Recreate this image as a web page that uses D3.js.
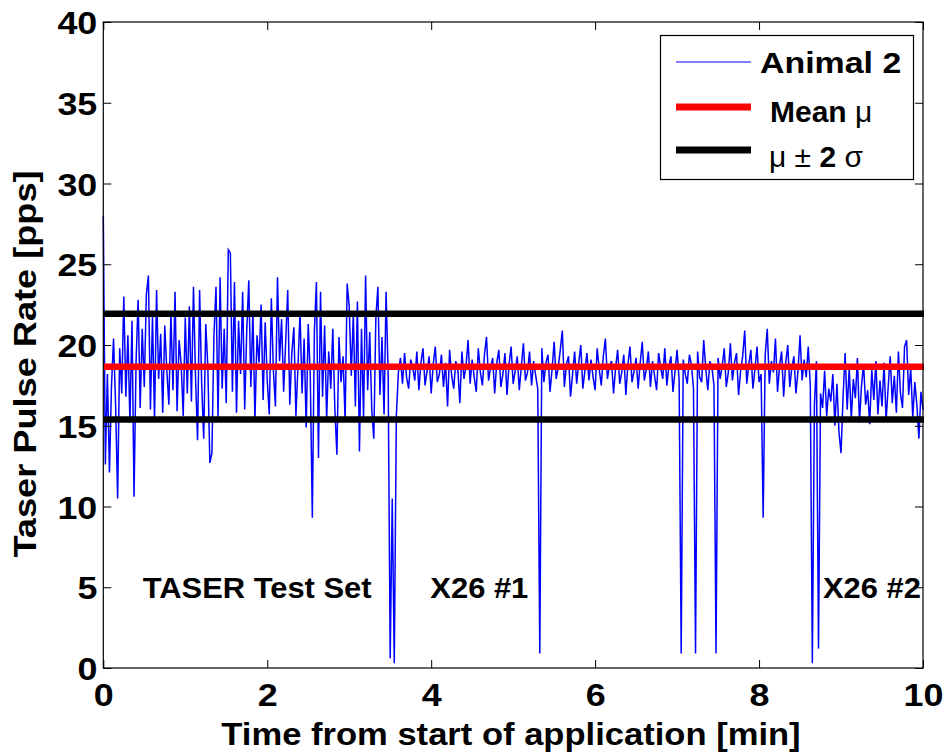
<!DOCTYPE html>
<html>
<head>
<meta charset="utf-8">
<script src="https://cdn.jsdelivr.net/npm/d3@7/dist/d3.min.js"></script>
<style>
body { margin: 0; background: #fff; }
svg text { font-family: "Liberation Sans", Arial, sans-serif; font-weight: bold; fill: #000; }
</style>
</head>
<body>
<svg id="chart" width="946" height="755"></svg>
<script>
// pulse rate, one sample every 0.025 min
var sampleStep = 0.025;

// TASER test set, 0 - 3.6 min
var testSetRate = [
  28.0, 12.6, 18.2, 12.1, 17.5, 20.4, 16.3, 10.5, 19.8, 17.0,
  23.0, 16.8, 20.6, 15.2, 21.5, 10.6, 19.0, 22.8, 16.1, 21.0,
  17.4, 23.1, 24.3, 16.0, 21.8, 15.4, 23.4, 17.9, 20.7, 15.8,
  21.2, 18.4, 16.3, 22.0, 17.2, 23.3, 15.9, 20.3, 18.8, 15.6,
  21.7, 17.0, 22.4, 16.5, 23.6, 18.0, 14.1, 23.4, 17.6, 14.2,
  21.3, 18.7, 12.7, 13.3, 20.6, 23.6, 15.5, 24.2, 17.3, 21.0,
  16.4, 25.9, 25.7, 17.1, 23.9, 15.8, 21.5, 18.2, 23.3, 16.0,
  20.9, 24.0, 17.4, 22.1, 15.3, 20.6, 18.9, 22.5, 16.6, 21.4,
  17.8, 15.7, 22.9, 18.4, 16.2, 24.2, 19.0, 21.6, 17.1, 20.2,
  23.4, 16.3, 19.5, 21.1, 15.6, 18.7, 22.0, 17.0, 20.4, 14.9,
  21.3, 18.1, 9.3, 20.8, 23.9, 13.0, 23.3, 16.8, 21.2, 15.4,
  19.6, 17.3, 21.0, 16.0, 13.2, 20.5, 17.7, 19.3, 15.3, 23.8,
  22.4, 18.1, 21.9, 16.2, 22.7, 13.4, 21.0, 15.5, 24.3, 17.2,
  20.8, 16.0, 14.2, 21.7, 23.6, 16.9, 20.5, 15.7, 23.3, 18.2,
  0.6, 10.5, 0.3, 15.6
];

// X26 #1, 3.6 - 8.75 min
var x26FirstRate = [
  18.3, 19.2, 17.6, 19.5, 18.0, 17.3, 19.1, 18.6, 17.8, 19.6,
  17.2, 18.9, 19.8, 17.5, 18.4, 19.3, 17.0, 18.8, 19.9, 17.7,
  18.2, 19.4, 17.4, 18.9, 16.2, 19.7, 18.1, 17.3, 19.0, 18.5,
  16.4, 19.6, 17.9, 18.7, 20.3, 17.6, 19.1, 18.0, 17.1, 19.8,
  18.3, 17.5, 19.4, 20.5, 17.8, 18.6, 19.2, 17.0, 18.9, 19.7,
  17.4, 18.2, 19.5, 16.9, 18.8, 19.9, 17.6, 18.4, 19.3, 17.2,
  18.7, 20.1, 17.8, 18.3, 19.6, 17.5, 19.0, 18.1, 17.3, 0.9,
  19.8, 17.7, 18.9, 19.4, 17.1, 18.5, 20.2, 17.9, 18.6, 19.7,
  20.9, 17.4, 18.8, 19.3, 16.8, 18.2, 19.6, 17.6, 18.9, 20.0,
  17.3, 18.4, 19.5, 17.8, 19.1, 18.0, 17.2, 19.8, 18.5, 17.5,
  19.3, 20.4, 17.9, 18.7, 19.0, 17.0, 18.6, 19.7, 17.6, 18.3,
  19.4, 16.9, 18.8, 19.9, 17.7, 18.4, 19.2, 17.3, 18.9, 20.2,
  17.8, 18.5, 19.6, 17.4, 19.0, 18.1, 17.2, 19.5, 18.6, 17.9,
  19.8, 17.5, 18.7, 19.3, 17.1, 18.4, 19.7, 17.8, 0.9, 19.1,
  18.2, 17.6, 19.4, 18.8, 17.3, 0.9, 19.6, 18.0, 17.7, 20.3,
  18.5, 17.2, 19.0, 18.6, 17.5, 0.9, 19.2, 17.9, 18.7, 19.8,
  17.4, 18.3, 20.1, 17.8, 18.9, 19.5, 16.9, 18.4, 19.3, 20.9,
  17.6, 18.8, 19.7, 17.3, 18.5, 19.9, 17.7, 18.2, 9.3, 19.4,
  21.0, 17.6, 19.0, 18.3, 20.4, 17.1, 18.7, 19.6, 16.8, 18.9,
  20.0, 17.4, 18.6, 19.3, 17.0, 18.4, 20.6, 17.8, 19.1, 18.0,
  19.9, 17.5, 0.3, 16.2, 19.0, 1.2
];

// X26 #2, 8.75 - 10 min
var x26SecondRate = [
  17.0, 16.1, 18.4, 15.6, 17.3, 16.5, 18.2, 15.0, 17.6, 14.6,
  13.3, 16.8, 19.5, 16.0, 18.6, 15.4, 17.9, 16.7, 19.2, 15.2,
  17.5, 18.8, 16.3, 17.2, 15.1, 18.5, 16.6, 19.0, 15.7, 17.8,
  16.2, 18.9, 15.3, 17.4, 19.3, 16.4, 18.1, 15.8, 19.6, 17.0,
  16.1, 19.9, 20.3, 16.9, 18.6, 15.5, 17.7, 16.3, 14.2, 17.1,
  16.0
];

var meanRate = 18.66;
var sigmaBand = [15.38, 21.94];

var xTicks = [0, 2, 4, 6, 8, 10];
var yTicks = [0, 5, 10, 15, 20, 25, 30, 35, 40];

var phaseLabels = [
  { text: "TASER Test Set", t: 0.48 },
  { text: "X26 #1", t: 3.99 },
  { text: "X26 #2", t: 8.78 }
];
var phaseLabelLevel = 4.35;

var legendItems = [
  { key: "Animal 2", color: "#0000ff", width: 1 },
  { key: "Mean", color: "#ff0000", width: 7 },
  { key: "band", color: "#000000", width: 7 }
];

var pulseRate = testSetRate.concat(x26FirstRate, x26SecondRate);
var samples = pulseRate.map(function(v, i) { return { t: i * sampleStep, v: v }; });

var plotL = 103.3, plotR = 923, plotT = 22, plotB = 668;
var svg = d3.select("#chart");

var x = d3.scaleLinear().domain([0, 10]).range([plotL, plotR]);
var y = d3.scaleLinear().domain([0, 40]).range([plotB, plotT]);

svg.append("rect").attr("width", 946).attr("height", 755).attr("fill", "#fff");

// stretch text a little wider, the original font runs wide
function widen(sel, k) {
  sel.each(function() {
    var w = this.getComputedTextLength();
    d3.select(this).attr("textLength", w * k).attr("lengthAdjust", "spacingAndGlyphs");
  });
}

// the trace
var line = d3.line().x(function(d) { return x(d.t); }).y(function(d) { return y(d.v); });
svg.append("path")
  .datum(samples)
  .attr("d", line)
  .attr("fill", "none")
  .attr("stroke", "#0000ff")
  .attr("stroke-width", 1.5)
  .attr("stroke-linejoin", "miter");

// mean and +/- 2 sigma
svg.selectAll(".band").data(sigmaBand).enter().append("line")
  .attr("x1", plotL).attr("x2", plotR + 1)
  .attr("y1", function(d) { return y(d); }).attr("y2", function(d) { return y(d); })
  .attr("stroke", "#000").attr("stroke-width", 6.5);

svg.append("line")
  .attr("x1", plotL).attr("x2", plotR + 1)
  .attr("y1", y(meanRate)).attr("y2", y(meanRate))
  .attr("stroke", "#ff0000").attr("stroke-width", 6.5);

// axes, ticks pointing inward like matlab
var gx = svg.append("g").attr("transform", "translate(0," + plotB + ")")
  .call(d3.axisBottom(x).tickValues(xTicks).tickSizeInner(-8).tickSizeOuter(0).tickPadding(15));
var gxTop = svg.append("g").attr("transform", "translate(0," + plotT + ")")
  .call(d3.axisTop(x).tickValues(xTicks).tickSizeInner(-8).tickSizeOuter(0).tickFormat(""));
var gy = svg.append("g").attr("transform", "translate(" + plotL + ",0)")
  .call(d3.axisLeft(y).tickValues(yTicks).tickSizeInner(-8).tickSizeOuter(0).tickPadding(6));
var gyRight = svg.append("g").attr("transform", "translate(" + plotR + ",0)")
  .call(d3.axisRight(y).tickValues(yTicks).tickSizeInner(-8).tickSizeOuter(0).tickFormat(""));

[gx, gxTop, gy, gyRight].forEach(function(g) {
  g.select(".domain").remove();
  g.selectAll("line").attr("stroke", "#000").attr("stroke-width", 1);
});
gx.selectAll("text").style("font-size", "32px").attr("fill", "#000");
gy.selectAll("text").style("font-size", "32px").attr("fill", "#000").attr("dy", "0.36em");
widen(gx.selectAll("text"), 1.12);
widen(gy.selectAll("text"), 1.12);

svg.append("rect")
  .attr("x", plotL).attr("y", plotT)
  .attr("width", plotR - plotL).attr("height", plotB - plotT)
  .attr("fill", "none").attr("stroke", "#000").attr("stroke-width", 1.2);

// axis titles
var xTitle = svg.append("text")
  .attr("x", 511).attr("y", 745)
  .attr("text-anchor", "middle")
  .style("font-size", "32px")
  .text("Time from start of application [min]");
widen(xTitle, 1.08);

var yTitle = svg.append("text")
  .attr("transform", "translate(36,364) rotate(-90)")
  .attr("text-anchor", "middle")
  .style("font-size", "32px")
  .text("Taser Pulse Rate [pps]");
widen(yTitle, 1.13);

// phase labels
var phases = svg.selectAll(".phase").data(phaseLabels).enter().append("text")
  .attr("class", "phase")
  .attr("x", function(d) { return x(d.t); })
  .attr("y", y(phaseLabelLevel))
  .style("font-size", "30px")
  .text(function(d) { return d.text; });
widen(phases, 1.03);

// legend
var lg = svg.append("g");
lg.append("rect")
  .attr("x", 660.5).attr("y", 35.5).attr("width", 253).attr("height", 144)
  .attr("fill", "#fff").attr("stroke", "#000").attr("stroke-width", 1.2);

var rowY = [62, 107, 150];
lg.selectAll(".key").data(legendItems).enter().append("line")
  .attr("x1", 676).attr("x2", 751)
  .attr("y1", function(d, i) { return rowY[i]; })
  .attr("y2", function(d, i) { return rowY[i]; })
  .attr("stroke", function(d) { return d.color; })
  .attr("stroke-width", function(d) { return d.width; });

var t1 = lg.append("text").attr("x", 760).attr("y", 73).style("font-size", "30px").text("Animal 2");
widen(t1, 1.13);

var t2 = lg.append("text").attr("x", 770).attr("y", 122).style("font-size", "30px");
t2.append("tspan").text("Mean ");
t2.append("tspan").style("font-weight", "normal").text("\u03bc");

var t3 = lg.append("text").attr("x", 769).attr("y", 167).style("font-size", "30px");
t3.append("tspan").style("font-weight", "normal").text("\u03bc \u00b1 ");
t3.append("tspan").text("2 ");
t3.append("tspan").style("font-weight", "normal").text("\u03c3");
</script>
</body>
</html>
